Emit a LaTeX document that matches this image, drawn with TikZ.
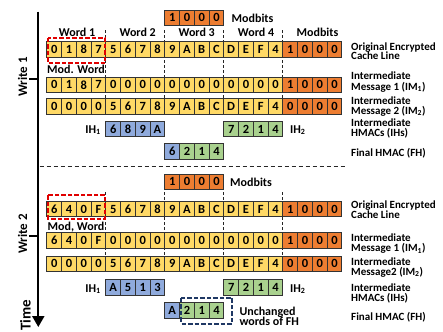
\documentclass[tikz,border=0pt]{standalone}
\usepackage{fontspec}
\setmainfont{Carlito}
\usetikzlibrary{arrows.meta}
\definecolor{cyel}{HTML}{FFD966}
\definecolor{corg}{HTML}{ED7D31}
\definecolor{cblu}{HTML}{8FAADC}
\definecolor{cgrn}{HTML}{A9D18E}
\definecolor{cred}{HTML}{E00000}
\definecolor{cnavy}{HTML}{1F3864}
\newcommand\cellfont{\fontsize{12.5}{12.5}\selectfont\bfseries}
\newcommand\lblfont{\fontsize{11}{9.5}\selectfont\bfseries}
\newcommand\tagfont{\fontsize{12}{12}\selectfont\bfseries}
% one row of word cells: name, y centre, first cell index, list of value/colour
\newcommand\cellrow[4]{%
  \foreach \v/\cc [count=\i from #3] in {#4} {
    \node[cell, fill=\cc] (#1-\i) at ({46.8+(\i+0.5)*14.75}, #2) {\v};
  }}
% one line of a side caption: name, baseline, text
\newcommand\sidelbl[3]{\node[sidecap] (#1) at (351,#2) {#3};}
\begin{document}
\begin{tikzpicture}[x=1pt,y=-1pt,
  cell/.style={draw=black!80, line width=0.8pt, minimum width=14.75pt,
    minimum height=15.5pt, inner sep=0pt, font=\cellfont},
  sidecap/.style={anchor=base west, inner sep=0pt, font=\lblfont},
  tag/.style={anchor=base, inner sep=0pt, font=\tagfont},
  wordsep/.style={draw=black!85, line width=0.7pt, dash pattern=on 3pt off 2pt},
  redbox/.style={draw=cred, line width=2pt, dash pattern=on 4.5pt off 2pt},
  navybox/.style={draw=cnavy, line width=1.8pt, dash pattern=on 4.5pt off 2pt},
  phase/.style={draw=black!85, line width=0.8pt, dash pattern=on 4pt off 3pt},
  axis/.style={line width=2.2pt, -{Triangle[width=12pt,length=11pt]}},
  tick/.style={line width=2pt},
  rot/.style={rotate=90, anchor=center, inner sep=0pt, font=\fontsize{13}{13}\selectfont\bfseries}]
\useasboundingbox (0,0) rectangle (443,331);

% ---------- write 1 ----------
% word separators (behind the cells)
\foreach \k in {1,2,3,4}
  \draw[wordsep] ({46.8+4*\k*14.75},30.5) -- ({46.8+4*\k*14.75},114.2);

\cellrow{m1}{17.7}{8}{1/corg,0/corg,0/corg,0/corg}
\cellrow{o1}{49.5}{0}{0/cyel,1/cyel,8/cyel,7/cyel,5/cyel,6/cyel,7/cyel,8/cyel,9/cyel,A/cyel,B/cyel,C/cyel,D/cyel,E/cyel,F/cyel,4/cyel,1/corg,0/corg,0/corg,0/corg}
\cellrow{a1}{84.8}{0}{0/cyel,1/cyel,8/cyel,7/cyel,0/cyel,0/cyel,0/cyel,0/cyel,0/cyel,0/cyel,0/cyel,0/cyel,0/cyel,0/cyel,0/cyel,0/cyel,1/corg,0/corg,0/corg,0/corg}
\cellrow{b1}{106.5}{0}{0/cyel,0/cyel,0/cyel,0/cyel,5/cyel,6/cyel,7/cyel,8/cyel,9/cyel,A/cyel,B/cyel,C/cyel,D/cyel,E/cyel,F/cyel,4/cyel,0/corg,0/corg,0/corg,0/corg}
\cellrow{h1}{129}{4}{6/cblu,8/cblu,9/cblu,A/cblu}
\cellrow{g1}{129}{12}{7/cgrn,2/cgrn,1/cgrn,4/cgrn}
\cellrow{f1}{151.5}{8}{6/cblu,2/cgrn,1/cgrn,4/cgrn}

\node[tag, anchor=base west] (mb1) at (231.5,23) {Modbits};
\node[tag] (wd1) at (77,37) {Word 1};
\node[tag] (wd2) at (137.7,37) {Word 2};
\node[tag] (wd3) at (196.7,37) {Word 3};
\node[tag] (wd4) at (256,37) {Word 4};
\node[tag] (wd5) at (317.5,37) {Modbits};
\node[tag] (mw1) at (76,74) {Mod. Word};
\node[tag, anchor=base east] (ih11) at (101,133) {IH\textsubscript{1}};
\node[tag, anchor=base west] (ih21) at (290,133) {IH\textsubscript{2}};

\sidelbl{oec1a}{50.5}{Original Encrypted}
\sidelbl{oec1b}{60}{Cache Line}
\sidelbl{im11a}{80}{Intermediate}
\sidelbl{im11b}{90.3}{Message 1 (IM\textsubscript{1})}
\sidelbl{im21a}{104.8}{Intermediate}
\sidelbl{im21b}{114.3}{Message 2 (IM\textsubscript{2})}
\sidelbl{ihs1a}{126.7}{Intermediate}
\sidelbl{ihs1b}{136.3}{HMACs (IHs)}
\sidelbl{fh1}{156.5}{Final HMAC (FH)}

% boundary between the two writes
\coordinate (sepL) at (39.5,166.7);
\coordinate (sepR) at (347,166.7);
\draw[phase] (sepL) -- (sepR);

% ---------- write 2 ----------
\foreach \k in {1,2,3,4}
  \draw[wordsep] ({46.8+4*\k*14.75},192) -- ({46.8+4*\k*14.75},271.5);

\cellrow{m2}{181.8}{8}{1/corg,0/corg,0/corg,0/corg}
\cellrow{o2}{209}{0}{6/cyel,4/cyel,0/cyel,F/cyel,5/cyel,6/cyel,7/cyel,8/cyel,9/cyel,A/cyel,B/cyel,C/cyel,D/cyel,E/cyel,F/cyel,4/cyel,1/corg,0/corg,0/corg,0/corg}
\cellrow{a2}{240.2}{0}{6/cyel,4/cyel,0/cyel,F/cyel,0/cyel,0/cyel,0/cyel,0/cyel,0/cyel,0/cyel,0/cyel,0/cyel,0/cyel,0/cyel,0/cyel,0/cyel,1/corg,0/corg,0/corg,0/corg}
\cellrow{b2}{263.7}{0}{0/cyel,0/cyel,0/cyel,0/cyel,5/cyel,6/cyel,7/cyel,8/cyel,9/cyel,A/cyel,B/cyel,C/cyel,D/cyel,E/cyel,F/cyel,4/cyel,0/corg,0/corg,0/corg,0/corg}
\cellrow{h2}{287.5}{4}{A/cblu,5/cblu,1/cblu,3/cblu}
\cellrow{g2}{287.5}{12}{7/cgrn,2/cgrn,1/cgrn,4/cgrn}
\cellrow{f2}{310.5}{8}{A/cblu,2/cgrn,1/cgrn,4/cgrn}

\node[tag, anchor=base west] (mb2) at (230,186.5) {Modbits};
\node[tag] (mw2) at (76,230.5) {Mod, Word};
\node[tag, anchor=base east] (ih12) at (101,292) {IH\textsubscript{1}};
\node[tag, anchor=base west] (ih22) at (290,292) {IH\textsubscript{2}};
\node[sidecap, font=\fontsize{12}{10}\selectfont\bfseries] (unc) at (239.3,315) {Unchanged};
\node[sidecap, font=\fontsize{12}{10}\selectfont\bfseries] (unc2) at (239.3,325.5) {words of FH};

\sidelbl{oec2a}{208.3}{Original Encrypted}
\sidelbl{oec2b}{218}{Cache Line}
\sidelbl{im12a}{241.7}{Intermediate}
\sidelbl{im12b}{251.5}{Message 1 (IM\textsubscript{1})}
\sidelbl{im22a}{265}{Intermediate}
\sidelbl{im22b}{275}{Message2 (IM\textsubscript{2})}
\sidelbl{ihs2a}{291.7}{Intermediate}
\sidelbl{ihs2b}{301.5}{HMACs (IHs)}
\sidelbl{fh2}{320}{Final HMAC (FH)}

% ---------- highlight boxes ----------
\draw[redbox] ([shift={(1.5,-3.4)}]o1-0.north west) rectangle ([shift={(-0.8,5.4)}]o1-3.south east);
\draw[redbox] ([shift={(1.7,-5.4)}]o2-0.north west) rectangle ([shift={(-0.8,1.4)}]o2-3.south east);
\draw[navybox] ([shift={(2.2,-4.5)}]f2-9.north west) rectangle ([shift={(8,5)}]f2-11.south east);

% ---------- time axis ----------
\coordinate (axtop) at (38.3,11.7);
\coordinate (axbot) at (38.3,327);
\coordinate (tk1) at (29.3,79.3);
\coordinate (tk2) at (29.3,236);
\draw[axis] (axtop) -- (axbot);
\draw[tick] (tk1) -- (tk1 -| axtop);
\draw[tick] (tk2) -- (tk2 -| axtop);
\node[rot] (wr1) at (22.5,77) {Write 1};
\node[rot] (wr2) at (22.5,234) {Write 2};
\node[rot, font=\fontsize{15}{15}\selectfont\bfseries] (tm) at (25.5,315) {Time};
\end{tikzpicture}
\end{document}
